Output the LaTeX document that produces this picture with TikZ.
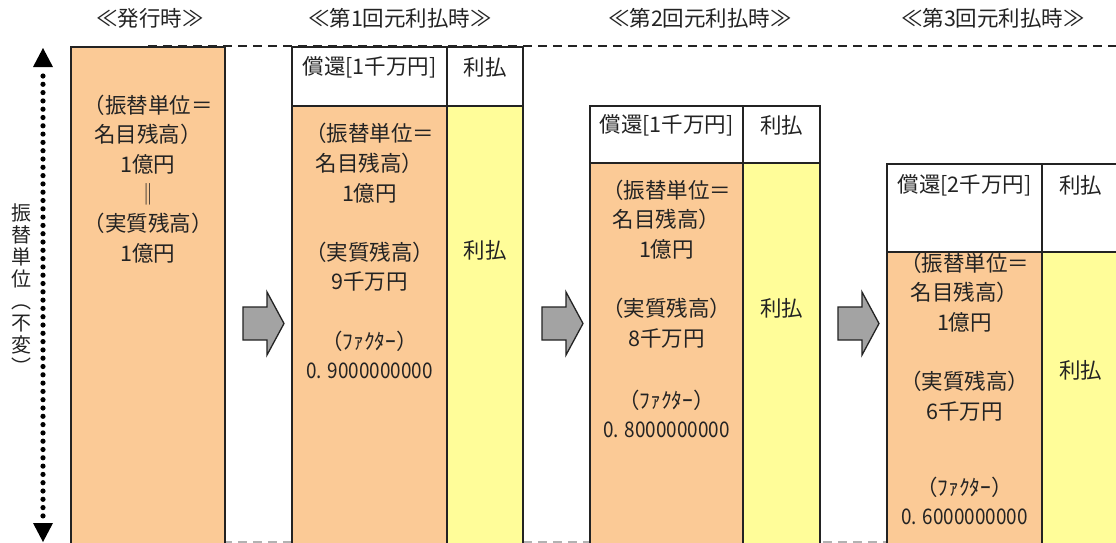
\documentclass[tikz,border=0pt]{standalone}
\usepackage{fontspec}
\setmainfont{Noto Sans CJK JP}
\newfontfamily\numfont{Noto Sans CJK JP}[FakeStretch=0.88]
\usetikzlibrary{arrows.meta}
\definecolor{boxorange}{RGB}{251,202,150}
\definecolor{boxyellow}{RGB}{255,253,153}
\definecolor{ink}{RGB}{35,35,35}
\begin{document}
\begin{tikzpicture}[x=1pt,y=-1pt,
  txt/.style={font=\fontsize{21.5}{29.6}\selectfont, text=ink, align=center, inner sep=0pt},
  ttl/.style={font=\fontsize{21.5}{26}\selectfont, text=ink, inner sep=0pt},
  cellline/.style={draw=ink, line width=1.8pt},
  orangecell/.style={cellline, fill=boxorange},
  yellowcell/.style={cellline, fill=boxyellow},
  whitecell/.style={cellline, fill=white},
  blockarrow/.style={draw=ink, line width=1.3pt, fill=black!36, line join=miter},
  guide/.style={dash pattern=on 9pt off 6pt, line width=1.8pt, draw=ink},
  dotline/.style={line width=5.2pt, line cap=round, dash pattern=on 0pt off 8.3pt, draw=black}
]
\useasboundingbox (0,0) rectangle (1116,542);
\clip (0,0) rectangle (1116,542);
\fill[white] (0,0) rectangle (1116,542);

% guide lines
\draw[guide] (148,46) -- (1116,46);
\draw[guide, draw=black!30] (148,542) -- (1116,542);

% titles
\node[ttl] (t0) at (150,18) {≪発行時≫};
\node[ttl] (t1) at (400,18) {≪第1回元利払時≫};
\node[ttl] (t2) at (700,18) {≪第2回元利払時≫};
\node[ttl] (t3) at (993,18) {≪第3回元利払時≫};

% vertical double arrow
\coordinate (vtop) at (43,48);
\coordinate (vbot) at (43,542);
\coordinate (va) at (43,76);
\coordinate (vb) at (43,518);
\draw[dotline] (va) -- (vb);
\fill[black] (vtop) -- ++(10,19) -- ++(-20,0) -- cycle;
\fill[black] (vbot) -- ++(10,-19) -- ++(-20,0) -- cycle;
\node[font=\fontsize{20}{22}\selectfont, align=center, inner sep=0pt, text=ink] (vl) at (22,289)
  {振\\替\\単\\位\\︵\\不\\変\\︶};

% box at issue
\draw[orangecell] (71,47) rectangle (225,560);
\node[txt] (m0) at (148,179) {（振替単位＝\\名目残高）\\1億円\\‖\\（実質残高）\\1億円};

% first payment
\draw[whitecell] (292,47) rectangle (447,106);
\draw[whitecell] (447,47) rectangle (523,106);
\draw[orangecell] (292,106) rectangle (447,560);
\draw[yellowcell] (447,106) rectangle (523,560);
\node[txt] (h1a) at (369.5,67) {償還[1千万円]};
\node[txt] (h1b) at (485,67) {利払};
\node[txt] (m1) at (369.5,207.5) {（振替単位＝\\名目残高）\\1億円\\[29.6pt]（実質残高）\\9千万円};
\node[txt] (f1) at (369.5,355) {（ﾌｧｸﾀｰ）\\{\numfont 0. 9000000000}};
\node[txt] (y1) at (485,250) {利払};

% second payment
\draw[whitecell] (590,106) rectangle (743,163);
\draw[whitecell] (743,106) rectangle (820,163);
\draw[orangecell] (590,163) rectangle (743,560);
\draw[yellowcell] (743,163) rectangle (820,560);
\node[txt] (h2a) at (666.5,125) {償還[1千万円]};
\node[txt] (h2b) at (781.5,125) {利払};
\node[txt] (m2) at (666.5,264) {（振替単位＝\\名目残高）\\1億円\\[29.6pt]（実質残高）\\8千万円};
\node[txt] (f2) at (666.5,414) {（ﾌｧｸﾀｰ）\\{\numfont 0. 8000000000}};
\node[txt] (y2) at (781.5,308) {利払};

% third payment
\draw[whitecell] (887,164) rectangle (1042,252);
\draw[whitecell] (1042,164) rectangle (1119,252);
\draw[orangecell] (887,252) rectangle (1042,560);
\draw[yellowcell] (1042,252) rectangle (1119,560);
\node[txt] (h3a) at (964.5,185) {償還[2千万円]};
\node[txt] (h3b) at (1080.5,185) {利払};
\node[txt] (m3) at (964.5,337) {（振替単位＝\\名目残高）\\1億円\\[29.6pt]（実質残高）\\6千万円};
\node[txt] (f3) at (964.5,501) {（ﾌｧｸﾀｰ）\\{\numfont 0. 6000000000}};
\node[txt] (y3) at (1080.5,370) {利払};

% block arrows
\draw[blockarrow] (243,307) -- (267,307) -- (267,292) -- (284,323.5) -- (267,355) -- (267,340) -- (243,340) -- cycle;
\draw[blockarrow, shift={(299,0)}] (243,307) -- (267,307) -- (267,292) -- (284,323.5) -- (267,355) -- (267,340) -- (243,340) -- cycle;
\draw[blockarrow, shift={(595,0)}] (243,307) -- (267,307) -- (267,292) -- (284,323.5) -- (267,355) -- (267,340) -- (243,340) -- cycle;
\end{tikzpicture}
\end{document}
